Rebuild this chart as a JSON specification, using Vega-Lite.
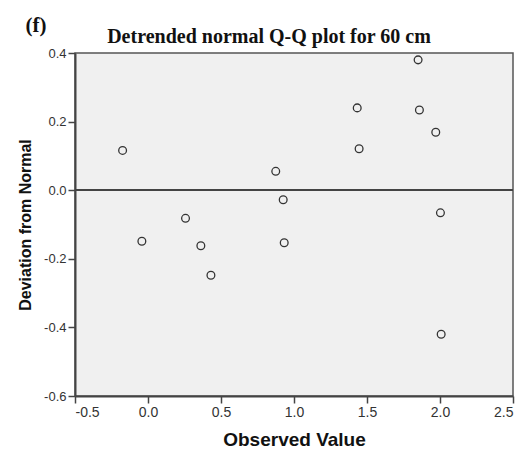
{
  "$schema": "https://vega.github.io/schema/vega-lite/v6.json",
  "autosize": "none",
  "width": 438,
  "height": 343,
  "padding": {"left": 75, "top": 53, "right": 14, "bottom": 54},
  "background": "white",
  "title": {
    "text": "Detrended normal Q-Q plot for 60 cm",
    "font": "Liberation Serif",
    "fontSize": 20,
    "fontWeight": "bold",
    "color": "#111",
    "anchor": "middle",
    "baseline": "alphabetic",
    "offset": -49,
    "dx": -25
  },
  "config": {
    "view": {"fill": "#f0f0f0", "stroke": "#555", "strokeWidth": 1.5},
    "axis": {
      "grid": false,
      "labelFont": "Liberation Sans",
      "labelFontSize": 13,
      "labelColor": "#333",
      "titleFont": "Liberation Sans",
      "titleFontWeight": "bold",
      "titleColor": "#111",
      "domainColor": "#444",
      "domainWidth": 2,
      "tickColor": "#444",
      "tickWidth": 1.5,
      "tickSize": 7
    }
  },
  "data": {
    "values": [
      {"observed": -0.174, "deviation": 0.116},
      {"observed": -0.042, "deviation": -0.149},
      {"observed": 0.257, "deviation": -0.082},
      {"observed": 0.362, "deviation": -0.162},
      {"observed": 0.431, "deviation": -0.248},
      {"observed": 0.875, "deviation": 0.055},
      {"observed": 0.926, "deviation": -0.028},
      {"observed": 0.933, "deviation": -0.153},
      {"observed": 1.433, "deviation": 0.240},
      {"observed": 1.446, "deviation": 0.121},
      {"observed": 1.850, "deviation": 0.380},
      {"observed": 1.859, "deviation": 0.234},
      {"observed": 1.971, "deviation": 0.169},
      {"observed": 2.008, "deviation": -0.420},
      {"observed": 2.003, "deviation": -0.066}
    ]
  },
  "resolve": {"axis": {"x": "independent"}},
  "layer": [
    {
      "mark": {"type": "point", "filled": false, "size": 60, "stroke": "#333", "strokeWidth": 1.3, "opacity": 1},
      "encoding": {
        "x": {
          "field": "observed",
          "type": "quantitative",
          "scale": {"domain": [-0.5, 2.5], "nice": false, "zero": false},
          "axis": {
            "orient": "bottom",
            "title": "Observed Value",
            "titleFontSize": 19,
            "titlePadding": 11,
            "values": [-0.5, 0, 0.5, 1, 1.5, 2, 2.5],
            "format": ".1f",
            "labelExpr": "replace(datum.label, '\u2212', '-')",
            "labelFontSize": 14,
            "labelPadding": 2
          }
        },
        "y": {
          "field": "deviation",
          "type": "quantitative",
          "scale": {"domain": [-0.6, 0.4], "nice": false, "zero": false},
          "axis": {
            "title": "Deviation from Normal",
            "titleFontSize": 16,
            "titlePadding": 10,
            "values": [-0.6, -0.4, -0.2, 0, 0.2, 0.4],
            "format": ".1f",
            "labelExpr": "replace(datum.label, '\u2212', '-')",
            "labelPadding": 2
          }
        }
      }
    },
    {
      "mark": {"type": "rule", "color": "#444", "strokeWidth": 1.5},
      "encoding": {
        "x": {
          "datum": -0.5,
          "type": "quantitative",
          "axis": {
            "orient": "top",
            "labels": false,
            "ticks": false,
            "domain": false,
            "title": "(f)",
            "titleFont": "Liberation Serif",
            "titleFontSize": 21,
            "titleFontWeight": "bold",
            "titleAnchor": "start",
            "titleAlign": "left",
            "titleBaseline": "alphabetic",
            "titleX": -50,
            "titleY": -22
          }
        },
        "x2": {"datum": 2.5},
        "y": {"datum": 0, "type": "quantitative"}
      }
    }
  ]
}
